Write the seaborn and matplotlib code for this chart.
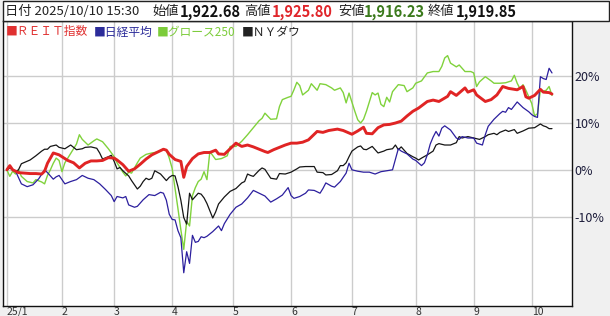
import matplotlib
matplotlib.use("Agg")
import matplotlib.pyplot as plt
import seaborn as sns
import pandas as pd
from matplotlib.patches import Rectangle

# ---------------- data (trading-day index since 2025/1/6, % change) ----------------
month_idx = [0, 19, 37, 57, 78, 98, 119, 141, 161, 181]
month_labels = ["25/1", "2", "3", "4", "5", "6", "7", "8", "9", "10"]
y_ticks = [-10, 0, 10, 20]
y_labels = ["-10%", "0%", "10%", "20%"]

reit_day = [0, 1, 2, 4, 6, 8, 10, 12, 13, 14, 16, 18, 20, 21, 23, 25, 27, 29, 31, 33, 35, 37, 38, 40,
            42, 44, 46, 48, 50, 52, 54, 55, 56, 58, 60, 61, 62, 64, 66, 68, 70, 72, 73, 75, 77, 79,
            81, 83, 85, 87, 89, 90, 92, 94, 96, 98, 100, 102, 104, 107, 109, 111, 114, 116, 119,
            121, 123, 124, 126, 128, 130, 132, 134, 136, 138, 140, 142, 145, 147, 149, 152, 153,
            155, 158, 159, 161, 162, 165, 167, 169, 171, 173, 176, 178, 179, 180, 182, 184, 185,
            187, 188]
reit_val = [0, 0.9, 0.0, -0.6, -0.7, -0.8, -0.8, -0.9, -0.3, 1.4, 3.6, 3.2, 2.4, 2.0, 1.5, 0.4, 1.4,
            1.9, 1.9, 2.0, 2.6, 2.5, 2.1, 1.1, -0.3, 0.2, 1.2, 2.3, 3.2, 3.8, 4.4, 4.2, 3.3, 2.2, 1.8,
            -1.6, 0.7, 2.4, 3.4, 3.7, 3.7, 4.2, 3.4, 3.3, 4.5, 5.7, 5.0, 5.3, 4.9, 4.4, 3.9, 3.7, 4.3,
            4.8, 5.3, 5.7, 5.7, 5.9, 6.4, 8.2, 8.0, 8.4, 8.7, 8.4, 7.6, 8.3, 9.1, 7.8, 7.7, 9.0, 9.6,
            9.7, 10.0, 10.4, 11.5, 12.5, 13.2, 14.6, 14.9, 14.6, 15.7, 16.7, 15.9, 17.5, 16.6, 17.1,
            16.0, 14.6, 15.0, 16.0, 17.8, 17.4, 17.1, 17.8, 15.6, 15.3, 15.9, 17.2, 16.6, 16.5, 16.2]

nikkei_day = [0, 1, 2, 3, 5, 7, 9, 11, 13, 14, 16, 17, 18, 20, 22, 24, 26, 28, 30, 32, 34, 36, 37,
              38, 40, 41, 42, 44, 45, 47, 49, 51, 53, 54, 55, 56, 57, 58, 59, 60, 61, 62, 63, 64,
              65, 66, 67, 68, 69, 71, 73, 74, 75, 77, 79, 81, 83, 85, 87, 89, 91, 93, 95, 97, 98,
              99, 101, 103, 104, 106, 108, 109, 110, 112, 113, 115, 117, 118, 119, 121, 123, 125,
              127, 129, 131, 133, 135, 136, 138, 140, 141, 143, 144, 145, 146, 147, 148, 149, 150,
              151, 153, 155, 156, 157, 159, 161, 162, 164, 165, 166, 168, 170, 171, 172, 173, 174,
              176, 178, 180, 181, 182, 183, 184, 185, 186, 187, 188]
nikkei_val = [0, 0.6, 0.1, -0.3, -3.0, -3.6, -3.2, -1.9, 0.0, -0.6, -2.0, -1.5, -1.2, -3.0, -2.5,
              -2.1, -1.2, -1.8, -2.1, -3.0, -4.2, -5.5, -6.8, -5.7, -6.0, -5.7, -7.5, -8.0, -7.8,
              -6.4, -5.3, -5.5, -4.8, -5.0, -6.5, -9.5, -10.6, -10.7, -13.0, -14.5, -22.0, -17.5,
              -20.0, -14.0, -15.5, -15.3, -14.3, -14.5, -14.2, -13.2, -12.0, -13.0, -11.5, -9.5,
              -8.0, -7.3, -6.0, -4.4, -5.0, -5.6, -6.9, -6.2, -5.4, -3.8, -5.5, -6.1, -5.7, -5.0,
              -4.3, -4.4, -5.0, -4.0, -2.8, -3.5, -3.7, -2.5, -0.7, 1.4, 0.0, -0.3, -0.5, -0.5,
              -0.9, -0.4, -0.2, 0.0, 4.5, 4.0, 3.4, 2.3, 2.0, 0.9, 1.5, 3.2, 5.5, 7.0, 8.2, 7.2,
              8.9, 9.4, 8.5, 6.8, 6.5, 7.1, 6.8, 6.8, 5.7, 5.3, 7.5, 9.3, 10.8, 12.0, 12.5, 12.3,
              13.3, 12.9, 14.5, 13.3, 12.4, 11.8, 11.4, 11.2, 19.9, 19.5, 19.3, 21.7, 20.7]

growth_day = [0, 1, 2, 3, 4, 5, 7, 9, 10, 12, 13, 14, 15, 16, 17, 18, 19, 20, 22, 24, 25, 26, 28,
              30, 31, 33, 35, 37, 38, 40, 41, 42, 43, 45, 46, 48, 50, 52, 54, 55, 56, 57, 58, 59,
              60, 61, 62, 63, 64, 65, 66, 67, 68, 69, 70, 72, 74, 76, 77, 79, 81, 83, 85, 87, 88,
              89, 91, 93, 94, 95, 97, 98, 99, 100, 101, 102, 104, 105, 107, 108, 110, 112, 113,
              115, 116, 117, 118, 120, 121, 122, 123, 124, 126, 127, 128, 129, 130, 131, 132, 133,
              135, 137, 138, 140, 141, 143, 145, 147, 149, 150, 151, 152, 153, 155, 156, 158, 160,
              161, 162, 163, 165, 167, 168, 170, 172, 174, 175, 176, 177, 178, 179, 181, 182, 183,
              184, 185, 186, 187, 188]
growth_val = [0, -1.4, -0.3, -0.9, 0.0, -1.4, -2.5, -2.8, -2.1, -2.6, -3.0, -1.2, 0.0, 1.4, 2.5,
              2.0, -0.4, 1.5, 3.5, 5.5, 7.5, 6.5, 5.3, 6.2, 6.6, 6.0, 4.5, 2.8, 1.5, -0.5, -1.3,
              -0.5, -0.7, 1.5, 2.5, 3.3, 3.6, 3.8, 4.4, 4.2, 2.5, 0.3, -4.0, -8.3, -12.8, -17.0,
              -11.0, -12.0, -5.5, -3.8, -2.5, -2.0, -0.4, -2.1, 3.9, 2.2, 2.4, 3.0, 5.0, 5.0, 6.1,
              7.5, 9.0, 10.5, 11.0, 12.1, 10.8, 10.9, 13.5, 15.0, 15.5, 15.7, 17.1, 18.7, 18.0,
              16.0, 17.0, 18.4, 17.0, 18.4, 18.2, 17.5, 17.0, 17.5, 16.5, 14.3, 16.4, 12.5, 10.7,
              10.0, 10.8, 12.5, 16.5, 16.0, 16.4, 14.0, 13.5, 15.5, 14.5, 16.7, 18.2, 18.0, 16.7,
              17.5, 18.5, 19.0, 20.7, 21.0, 21.0, 22.1, 23.9, 24.4, 22.8, 22.0, 22.4, 21.0, 21.0,
              20.7, 17.8, 18.8, 19.9, 19.0, 18.5, 18.5, 18.6, 19.0, 20.2, 18.5, 17.3, 18.2, 17.0,
              14.2, 11.5, 12.0, 17.1, 16.8, 17.0, 17.8, 15.9]

dow_day = [0, 1, 2, 3, 4, 5, 8, 10, 12, 13, 14, 15, 17, 18, 20, 22, 24, 26, 27, 29, 31, 32, 33, 35,
           36, 37, 38, 39, 40, 42, 43, 44, 45, 46, 47, 48, 49, 50, 51, 53, 55, 56, 57, 58, 59, 60,
           61, 62, 63, 64, 66, 67, 68, 69, 71, 72, 73, 75, 77, 79, 80, 81, 82, 83, 84, 85, 87, 88,
           89, 91, 93, 94, 96, 98, 100, 101, 103, 105, 106, 107, 109, 110, 112, 114, 115, 116,
           117, 118, 119, 121, 122, 123, 124, 126, 127, 128, 130, 131, 133, 134, 135, 136, 138,
           140, 141, 142, 143, 145, 147, 148, 149, 151, 153, 155, 156, 157, 159, 161, 163, 165,
           166, 168, 169, 170, 172, 173, 175, 176, 178, 180, 182, 184, 185, 186, 187, 188]
dow_val = [0, 0.4, 0.0, -0.4, 0.0, 1.3, 2.1, 3.0, 4.0, 4.4, 4.4, 5.0, 5.3, 4.8, 4.5, 5.3, 4.3, 4.5,
           4.8, 4.9, 4.6, 3.6, 2.3, 2.8, 3.1, 1.8, 0.2, 0.5, -0.2, -1.3, -2.3, -3.2, -4.1, -3.5,
           -2.5, -1.8, -2.1, -1.8, -0.2, -0.9, -2.3, -1.6, -1.2, -1.3, -3.6, -6.5, -10.2, -11.6,
           -5.0, -6.4, -5.0, -5.2, -6.0, -7.2, -10.3, -9.0, -7.3, -5.8, -4.6, -4.0, -3.4, -2.8,
           -2.5, -0.9, -1.2, -1.4, -0.1, 0.4, 0.1, -1.8, -2.0, -0.8, -0.9, -0.5, 0.2, 0.6, 0.7,
           0.7, 0.7, -0.5, -0.6, -1.1, -1.0, -0.2, 0.9, 0.9, 1.5, 2.8, 4.0, 4.9, 5.1, 4.4, 4.3,
           5.0, 4.3, 3.6, 4.0, 4.3, 4.5, 5.3, 4.3, 4.9, 3.5, 2.8, 2.5, 2.1, 2.5, 3.2, 4.0, 5.3,
           5.6, 5.3, 5.3, 5.8, 7.1, 6.8, 7.1, 6.8, 6.5, 7.1, 7.5, 7.8, 7.5, 8.0, 8.5, 8.2, 8.6,
           7.8, 8.3, 8.9, 9.0, 9.8, 9.4, 9.2, 8.8, 8.8]

series_names = ["ＲＥＩＴ指数", "日経平均", "グロース250", "ＮＹダウ"]
header_labels = ["始値", "高値", "安値", "終値"]
header_values = ["1,922.68", "1,925.80", "1,916.23", "1,919.85"]
header_date = "日付 2025/10/10 15:30"

# ---------------- styling ----------------
C_RED = "#e02424"
C_BLUE = "#2c1f9e"
C_GREEN = "#80d23c"
C_BLACK = "#151515"

sns.set_theme(style="white")
plt.rcParams['font.family'] = ['Noto Sans CJK JP', 'DejaVu Sans']

W, H = 610, 316
fig = plt.figure(figsize=(W / 100, H / 100), dpi=100, facecolor="#f0f0f0")


def fx(px):
    return px / W


def fy(py):
    return 1 - py / H


ax = fig.add_axes([fx(3), fy(306), fx(572) - fx(3), fy(21) - fy(306)])
ax.set_facecolor("white")

frames = {
    "growth": pd.DataFrame({"day": growth_day, "pct": growth_val}),
    "dow": pd.DataFrame({"day": dow_day, "pct": dow_val}),
    "nikkei": pd.DataFrame({"day": nikkei_day, "pct": nikkei_val}),
    "reit": pd.DataFrame({"day": reit_day, "pct": reit_val}),
}
styles = {
    "growth": (C_GREEN, 1.0),
    "dow": (C_BLACK, 0.9),
    "nikkei": (C_BLUE, 0.9),
    "reit": (C_RED, 2.1),
}
for key, df in frames.items():
    col, lw = styles[key]
    sns.lineplot(data=df, x="day", y="pct", color=col, lw=lw, ax=ax,
                 estimator=None, errorbar=None, legend=False, zorder=3)

ax.set_xlim(-1.34, 194.9)
ax.set_ylim(-29.1, 31.8)
ax.set_xticks(month_idx)
ax.set_xticklabels(month_labels, ha="left")
ax.set_yticks(y_ticks)
ax.set_yticklabels(y_labels)
ax.yaxis.tick_right()
ax.set_xlabel("")
ax.set_ylabel("")
ax.grid(True, color="#cccccc", lw=1.0, zorder=0)
ax.set_axisbelow(True)
ax.tick_params(axis="x", length=0, pad=0.5, labelsize=7.5, labelcolor="#333333")
ax.tick_params(axis="y", length=0, pad=2, labelsize=9, labelcolor="#1c1c3a")
for s in ax.spines.values():
    s.set_color("#111111")
    s.set_linewidth(1.0)
    s.set_visible(True)

# header bar
fig.add_artist(Rectangle((fx(3), fy(21)), fx(609) - fx(3), fy(1) - fy(21),
                         transform=fig.transFigure, facecolor="white",
                         edgecolor="#222222", lw=1.0, zorder=5))
hy = fy(11.5)
fig.text(fx(5), hy, header_date, fontsize=9.5, color="#222222", va="center", zorder=6)
lab_x = [152, 244, 338, 428]
val_x = [180, 272, 364, 456]
val_col = ["#111111", "#e0262b", "#3b7a1c", "#111111"]
for lx, vx, lab, val, vc in zip(lab_x, val_x, header_labels, header_values, val_col):
    fig.text(fx(lx), hy, lab, fontsize=9.5, color="#222222", va="center", zorder=6)
    fig.text(fx(vx), hy, val, fontsize=10.5, color=vc, weight="bold", va="center", zorder=6)

# legend row
leg_x = [6, 94, 157, 242]
leg_col = ["#e03030", "#2c2c9a", "#7ccc3a", "#222222"]
for lx, name, lc in zip(leg_x, series_names, leg_col):
    fig.text(fx(lx), fy(32), "■" + name, fontsize=8.5, color=lc, va="center", zorder=6)

fig.savefig("out.png", dpi=100, facecolor=fig.get_facecolor())
